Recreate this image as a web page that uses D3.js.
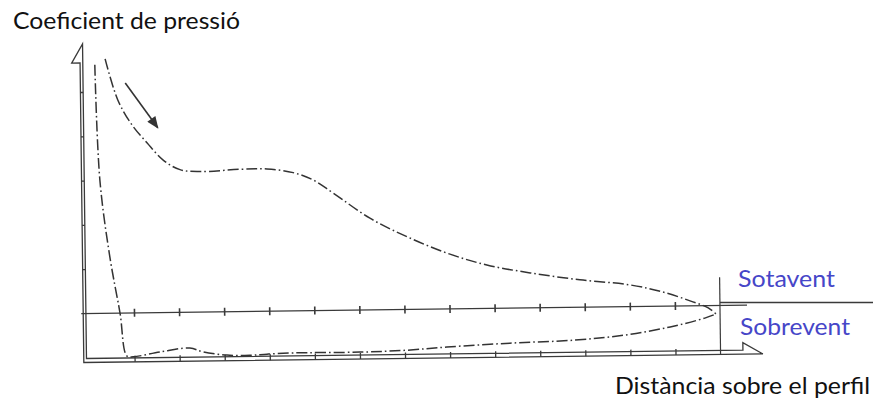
<!DOCTYPE html>
<html>
<head>
<meta charset="utf-8">
<script src="https://cdn.jsdelivr.net/npm/d3@7"></script>
<style>
  html, body { margin: 0; padding: 0; background: #fff; }
  svg { display: block; }
</style>
</head>
<body>
<svg id="chart" width="873" height="403"></svg>
<script>
// ---- data ----
const xTicks = [1, 2, 3, 4, 5, 6, 7, 8, 9, 10, 11, 12, 13];
const yTicks = [1, 2, 3, 4, 5];

// Sotavent (suction side) curve
const sotaventX = [0.43, 0.70, 1.01, 1.34, 1.69, 2.06, 2.50, 3.39, 3.99, 4.57, 5.01, 5.45, 6.26, 7.08, 7.96, 8.84, 9.80, 10.90, 12.01, 12.74, 13.40, 13.74, 13.91];
const sotaventY = [5.74, 4.81, 4.24, 3.83, 3.44, 3.22, 3.17, 3.21, 3.21, 3.12, 2.95, 2.65, 2.07, 1.64, 1.26, 0.98, 0.79, 0.62, 0.49, 0.32, 0.09, -0.05, -0.19];

// Sobrevent (pressure side) curve
const sobreventX = [0.20, 0.28, 0.48, 0.69, 0.83, 0.97, 1.57, 2.23, 2.52, 3.05, 3.56, 3.94, 4.52, 6.00, 7.05, 7.93, 9.33, 10.78, 11.89, 12.89, 13.66, 13.91];
const sobreventY = [5.61, 3.01, 1.27, 0.00, -0.97, -0.99, -0.89, -0.81, -0.90, -0.98, -0.99, -0.97, -0.95, -0.95, -0.92, -0.86, -0.79, -0.74, -0.64, -0.47, -0.28, -0.19];

// direction arrow
const arrowX = [0.87, 1.58];
const arrowY = [5.19, 4.17];

const yTitle = "Coeficient de pressió";
const xTitle = "Distància sobre el perfil";
const upperLabel = "Sotavent";
const lowerLabel = "Sobrevent";

// ---- drawing ----
const svg = d3.select("#chart");
svg.append("rect").attr("width", 873).attr("height", 403).attr("fill", "#fff");

const x = d3.scaleLinear().domain([0, 14]).range([89.5, 720.6]);
const y = d3.scaleLinear().domain([0, 5]).range([313.5, 92]);

const ink = "#3a3a3a";
const g = svg.append("g").attr("transform", "rotate(-0.72, 84, 360)");

// frame (double-line axes with half arrowheads)
const outerX = x(0) - 5.7, innerX = x(0) - 3;
const innerB = y(0) + 45, outerB = y(0) + 49;
const topY = y(0) - 269.5, flagY = y(0) - 250.5, flagX = x(0) - 14.1;
const endInner = x(14) + 22.4, endOuter = x(14) + 42.4, endFlag = innerB - 7.5;

g.append("path")
  .attr("d", `M${endOuter},${outerB} L${outerX},${outerB} L${outerX},${flagY} L${flagX},${flagY} L${innerX},${topY} L${innerX},${innerB} L${endInner},${innerB} L${endInner},${endFlag} L${endOuter},${outerB}`)
  .attr("fill", "none").attr("stroke", ink).attr("stroke-width", 1.3).attr("stroke-linejoin", "miter");

// y ticks across the double line
g.append("g").attr("transform", `translate(${innerX},0)`)
  .call(d3.axisLeft(y).tickValues(yTicks).tickSize(innerX - outerX).tickFormat(""))
  .call(a => a.select(".domain").remove())
  .selectAll("line").attr("stroke", ink).attr("stroke-width", 1.3);

// bottom ticks across the double line
g.append("g").attr("transform", `translate(0,${innerB - 2})`)
  .call(d3.axisBottom(x).tickValues(xTicks).tickSize(outerB - innerB + 2).tickFormat(""))
  .call(a => a.select(".domain").remove())
  .selectAll("line").attr("stroke", ink).attr("stroke-width", 1.3);

// zero line
g.append("line")
  .attr("x1", x(-0.17)).attr("x2", x(14.6)).attr("y1", y(0)).attr("y2", y(0))
  .attr("stroke", ink).attr("stroke-width", 1.3);
g.append("g").attr("transform", `translate(0,${y(0) - 4})`)
  .call(d3.axisBottom(x).tickValues(xTicks).tickSize(8).tickFormat(""))
  .call(a => a.select(".domain").remove())
  .selectAll("line").attr("stroke", ink).attr("stroke-width", 1.6);

// trailing edge line
g.append("line")
  .attr("x1", x(14)).attr("x2", x(14)).attr("y1", y(0.64)).attr("y2", outerB)
  .attr("stroke", ink).attr("stroke-width", 1.2);

// curves
const line = d3.line().x(d => x(d[0])).y(d => y(d[1])).curve(d3.curveCatmullRom.alpha(0.5));
const upper = sotaventX.map((v, i) => [v, sotaventY[i]]);
const lower = sobreventX.map((v, i) => [v, sobreventY[i]]);
[upper, lower].forEach(pts => {
  g.append("path").attr("d", line(pts))
    .attr("fill", "none").attr("stroke", "#333").attr("stroke-width", 1.5)
    .attr("stroke-dasharray", "11,3,1.6,3");
});

// arrow
svg.append("defs").append("marker")
  .attr("id", "head").attr("markerUnits", "userSpaceOnUse")
  .attr("viewBox", "0 0 12 10").attr("refX", 11).attr("refY", 5)
  .attr("markerWidth", 13).attr("markerHeight", 10).attr("orient", "auto")
  .append("path").attr("d", "M0,0 L12,5 L0,10 Z").attr("fill", "#333");
g.append("line")
  .attr("x1", x(arrowX[0])).attr("y1", y(arrowY[0]))
  .attr("x2", x(arrowX[1])).attr("y2", y(arrowY[1]))
  .attr("stroke", "#333").attr("stroke-width", 1.6).attr("marker-end", "url(#head)");

// side separator line next to labels
svg.append("line").attr("x1", 720).attr("x2", 873).attr("y1", 302.5).attr("y2", 302.5)
  .attr("stroke", ink).attr("stroke-width", 1.3);

// texts
const font = "Lato, 'Open Sans', sans-serif";
function label(txt, px, py, w, color) {
  svg.append("text").attr("x", px).attr("y", py).text(txt)
    .attr("font-family", font).attr("font-size", 23).attr("fill", color)
    .attr("textLength", w).attr("lengthAdjust", "spacingAndGlyphs");
}
label(yTitle, 13, 29, 227, "#111");
label(xTitle, 615, 394, 255, "#111");
label(upperLabel, 738, 287, 97, "#4646c8");
label(lowerLabel, 740, 335, 110, "#4646c8");
</script>
</body>
</html>
